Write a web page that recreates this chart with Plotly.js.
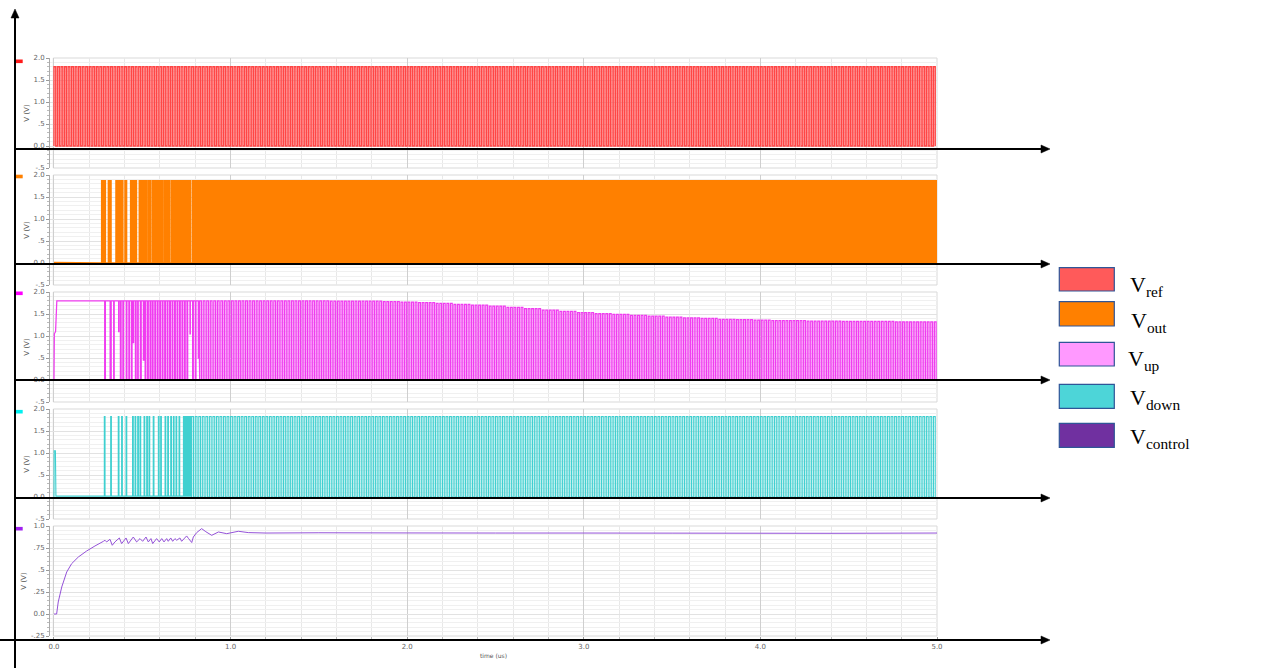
<!DOCTYPE html>
<html><head><meta charset="utf-8">
<script src="https://cdn.plot.ly/plotly-3.0.1.min.js"></script>
<style>html,body{margin:0;padding:0;background:#fff}#chart{width:1262px;height:670px}</style>
</head><body><div id="chart"></div>
<script>
// ---------------- data ----------------
const timeTickVals = [0, 1, 2, 3, 4, 5];
const timeTickText = ['0.0', '1.0', '2.0', '3.0', '4.0', '5.0'];
const voltTickVals = [-0.5, 0, 0.5, 1, 1.5, 2];
const voltTickText = ['-.5', '0.0', '.5', '1.0', '1.5', '2.0'];
const ctrlTickVals = [-0.25, 0, 0.25, 0.5, 0.75, 1];
const ctrlTickText = ['-.25', '0.0', '.25', '.5', '.75', '1.0'];

const legendNames = ['ref', 'out', 'up', 'down', 'control'];

// Vref clock: [start, end, period, duty, high]
const vrefClock = [0.0, 5.0, 0.02, 0.5, 1.80];

// Vout: idle level, burst windows of the VCO output, then continuous
const voutIdle = 0.01;
const voutHigh = 1.87;
const voutPeriod = 0.006;
const voutBursts = [[0.270, 0.294], [0.308, 0.327], [0.351, 0.392], [0.402, 0.417], [0.434, 0.472],
  [0.483, 0.500], [0.504, 0.528], [0.534, 0.553], [0.559, 0.581], [0.585, 0.619], [0.627, 0.657],
  [0.664, 0.698], [0.702, 0.723], [0.729, 0.774], [0.785, 5.0]];

// Vup: start-up points, early dips [time, width, min], clock, envelope of pulse tops
const vupStartT = [0.0, 0.002, 0.009, 0.016];
const vupStartV = [0.0, 1.05, 1.10, 1.80];
const vupHigh = 1.80;
const vupDips = [[0.287, 0.004, 0], [0.318, 0.006, 0], [0.338, 0.003, 0], [0.366, 0.002, 1.1],
  [0.376, 0.004, 0], [0.390, 0.004, 0], [0.409, 0.004, 0], [0.424, 0.003, 0], [0.438, 0.004, 0],
  [0.449, 0.002, 0.85], [0.461, 0.004, 0], [0.474, 0.003, 0], [0.489, 0.005, 0], [0.506, 0.003, 0.45],
  [0.516, 0.004, 0], [0.530, 0.004, 0], [0.544, 0.004, 0], [0.557, 0.004, 0], [0.571, 0.004, 0],
  [0.585, 0.004, 0], [0.599, 0.004, 0], [0.613, 0.004, 0], [0.627, 0.004, 0], [0.641, 0.004, 0],
  [0.655, 0.004, 0], [0.669, 0.004, 0], [0.683, 0.004, 0], [0.697, 0.004, 0], [0.711, 0.004, 0],
  [0.725, 0.004, 0], [0.739, 0.004, 0], [0.753, 0.004, 0], [0.770, 0.002, 1.05], [0.785, 0.004, 0],
  [0.800, 0.004, 0], [0.817, 0.002, 0.5]];
const vupClock = [0.825, 5.0, 0.02, 0.5];
const vupEnvT = [0.8, 0.9, 1.0, 1.1, 1.2, 1.3, 1.4, 1.5, 1.6, 1.7, 1.8, 1.9, 2.0, 2.1, 2.2, 2.3, 2.4,
  2.5, 2.6, 2.7, 2.8, 2.9, 3.0, 3.1, 3.2, 3.3, 3.4, 3.5, 3.6, 3.7, 3.8, 3.9, 4.0, 4.1, 4.2, 4.3, 4.4,
  4.5, 4.6, 4.7, 4.8, 4.9, 5.0];
const vupEnvV = [1.80, 1.80, 1.80, 1.80, 1.80, 1.80, 1.80, 1.80, 1.79, 1.79, 1.79, 1.78, 1.77, 1.76,
  1.74, 1.72, 1.70, 1.68, 1.65, 1.62, 1.59, 1.56, 1.53, 1.51, 1.49, 1.47, 1.45, 1.43, 1.41, 1.40,
  1.38, 1.37, 1.36, 1.35, 1.35, 1.34, 1.34, 1.33, 1.33, 1.33, 1.32, 1.32, 1.32];

// Vdown: start-up points, early narrow pulses, clock
const vdownStartT = [0.0, 0.001, 0.008, 0.011];
const vdownStartV = [0.0, 1.05, 1.05, 0.02];
const vdownIdle = 0.02;
const vdownHigh = 1.83;
const vdownPulseWidth = 0.004;
const vdownPulses = [0.285, 0.321, 0.364, 0.383, 0.408, 0.445, 0.459, 0.474, 0.487, 0.510, 0.525,
  0.538, 0.562, 0.591, 0.604, 0.629, 0.644, 0.661, 0.676, 0.691, 0.708, 0.733, 0.742, 0.750, 0.757,
  0.765, 0.772];
const vdownClock = [0.780, 5.0, 0.02, 0.5];

// Vcontrol
const vcontrolT = [0.0, 0.015, 0.024, 0.044, 0.072, 0.100, 0.138, 0.185, 0.232, 0.280, 0.289, 0.298,
  0.317, 0.330, 0.345, 0.370, 0.383, 0.408, 0.421, 0.449, 0.468, 0.487, 0.502, 0.521, 0.534, 0.549,
  0.559, 0.581, 0.596, 0.610, 0.623, 0.638, 0.647, 0.661, 0.672, 0.685, 0.695, 0.713, 0.723, 0.751,
  0.761, 0.780, 0.789, 0.808, 0.836, 0.860, 0.893, 0.931, 0.978, 1.044, 1.100, 1.200, 1.500, 2.000,
  2.500, 3.000, 3.500, 4.000, 4.400, 4.600, 5.000];
const vcontrolV = [0.0, 0.0, 0.136, 0.307, 0.477, 0.572, 0.648, 0.716, 0.773, 0.826, 0.838, 0.819,
  0.849, 0.781, 0.819, 0.864, 0.800, 0.864, 0.800, 0.875, 0.819, 0.857, 0.826, 0.875, 0.819, 0.857,
  0.800, 0.857, 0.819, 0.857, 0.819, 0.857, 0.826, 0.864, 0.826, 0.857, 0.838, 0.864, 0.826, 0.887,
  0.860, 0.812, 0.875, 0.925, 0.970, 0.935, 0.894, 0.932, 0.913, 0.940, 0.925, 0.920, 0.923, 0.921,
  0.920, 0.920, 0.919, 0.918, 0.917, 0.918, 0.920];

// ---------------- builders ----------------
function pushClock(xs, ys, t0, t1, period, duty, low, highAt) {
  const n = Math.round((t1 - t0) / period);
  for (let k = 0; k < n; k++) {
    const s = t0 + k * period;
    const e = Math.min(s + duty * period, t1);
    const h = highAt(s);
    xs.push(s, s, e, e); ys.push(low, h, h, low);
  }
}
function nearestEnv(t) {
  let best = 0;
  for (let i = 1; i < vupEnvT.length; i++) if (Math.abs(vupEnvT[i] - t) < Math.abs(vupEnvT[best] - t)) best = i;
  return vupEnvV[best];
}

const refX = [], refY = [];
pushClock(refX, refY, vrefClock[0], vrefClock[1], vrefClock[2], vrefClock[3], 0, () => vrefClock[4]);

const outX = [0], outY = [voutIdle];
voutBursts.forEach(b => {
  outX.push(b[0]); outY.push(0);
  pushClock(outX, outY, b[0], b[1], voutPeriod, 0.5, 0, () => voutHigh);
});

const upX = vupStartT.slice(), upY = vupStartV.slice();
vupDips.forEach(d => { upX.push(d[0], d[0], d[0] + d[1], d[0] + d[1]); upY.push(vupHigh, d[2], d[2], vupHigh); });
pushClock(upX, upY, vupClock[0], vupClock[1], vupClock[2], vupClock[3], 0, nearestEnv);

const downX = vdownStartT.slice(), downY = vdownStartV.slice();
vdownPulses.forEach(p => { downX.push(p, p, p + vdownPulseWidth, p + vdownPulseWidth); downY.push(vdownIdle, vdownHigh, vdownHigh, vdownIdle); });
pushClock(downX, downY, vdownClock[0], vdownClock[1], vdownClock[2], vdownClock[3], 0, () => vdownHigh);

// ---------------- layout ----------------
const W = 1262, H = 670;
const L = 50, R = 937, T = 58, B = 636;
const px = p => (p - L) / (R - L);
const py = p => (B - p) / (B - T);
const panelTops = [58, 175, 292, 409, 526];
const panelH = 110;

const colors = ['#ff4545', '#ff8000', '#f03cf0', '#3fd0d0', '#9452d8'];
const widths = [1.4, 1.5, 1.25, 1.1, 1];
const markColors = ['#ff1a1a', '#ff8000', '#ff00ff', '#00f0f0', '#a020f0'];
const legendFill = ['#ff5a5a', '#ff8000', '#ff99ff', '#4dd5d8', '#7030a0'];

const traces = [
  [refX, refY], [outX, outY], [upX, upY], [downX, downY], [vcontrolT, vcontrolV]
].map((d, i) => ({
  x: d[0], y: d[1], type: 'scatter', mode: 'lines',
  xaxis: 'x', yaxis: i === 0 ? 'y' : 'y' + (i + 1),
  line: { color: colors[i], width: widths[i], simplify: false },
  hoverinfo: 'skip', name: 'V' + legendNames[i]
}));

const tickFont = { family: 'DejaVu Sans', size: 7, color: '#666' };
const layout = {
  width: W, height: H,
  margin: { l: L, r: W - R, t: T, b: H - B, pad: 0 },
  paper_bgcolor: '#fff', plot_bgcolor: '#fff',
  showlegend: false, hovermode: false,
  xaxis: {
    range: [-0.0226, 5.0], anchor: 'y5',
    tickmode: 'array', tickvals: timeTickVals, ticktext: timeTickText,
    ticks: 'outside', ticklen: 4, tickcolor: '#999', tickfont: tickFont,
    showgrid: true, gridcolor: '#cfcfcf', gridwidth: 1, zeroline: false, showline: false,
    minor: { dtick: 0.2, tick0: 0, ticks: 'outside', ticklen: 2, tickcolor: '#bbb', showgrid: true, gridcolor: '#e8e8e8' },
    title: { text: 'time (us)', font: { family: 'DejaVu Sans', size: 6, color: '#555' }, standoff: 3 }
  },
  shapes: [], annotations: []
};

for (let i = 0; i < 5; i++) {
  const key = i === 0 ? 'yaxis' : 'yaxis' + (i + 1);
  const top = panelTops[i], bot = top + panelH;
  const isCtrl = i === 4;
  layout[key] = {
    domain: [py(bot), py(top)], anchor: 'x',
    range: isCtrl ? [-0.25, 1.0] : [-0.5, 2.0],
    tickmode: 'array', tickvals: isCtrl ? ctrlTickVals : voltTickVals, ticktext: isCtrl ? ctrlTickText : voltTickText,
    ticks: 'outside', ticklen: 3, tickcolor: '#999', tickfont: tickFont,
    showline: true, linecolor: '#aaa', linewidth: 1,
    showgrid: true, gridcolor: '#e2e2e2', zeroline: false,
    minor: { dtick: isCtrl ? 0.05 : 0.1, tick0: 0, ticks: 'outside', ticklen: 2, tickcolor: '#bbb', showgrid: true, gridcolor: '#f0f0f0' },
    title: { text: 'V (V)', font: { family: 'DejaVu Sans', size: 7, color: '#555' }, standoff: 3 }
  };
  layout.shapes.push({ type: 'rect', xref: 'paper', yref: 'paper',
    x0: px(53.3), x1: px(937), y0: py(bot), y1: py(top), line: { color: '#d9d9d9', width: 1 }, layer: 'below' });
  const mc = top + [3.3, 1.5, 1.3, 2.7, 2.7][i];
  layout.shapes.push({ type: 'rect', xref: 'paper', yref: 'paper', x0: px(16), x1: px(22.7), y0: py(mc + 1.8), y1: py(mc - 1.8),
    fillcolor: markColors[i], line: { width: 0 }, layer: 'above' });
}

// black axis arrows
const arrowYs = [149, 264, 380, 498, 640];
const black = '#000';
arrowYs.forEach((yy, i) => {
  const x0 = i === 4 ? 0 : 14;
  layout.shapes.push({ type: 'line', xref: 'paper', yref: 'paper', x0: px(x0), x1: px(1044), y0: py(yy), y1: py(yy),
    line: { color: black, width: 2 }, layer: 'above' });
  layout.shapes.push({ type: 'path', xref: 'paper', yref: 'paper',
    path: `M ${px(1050)} ${py(yy)} L ${px(1041)} ${py(yy - 4)} L ${px(1041)} ${py(yy + 4)} Z`,
    fillcolor: black, line: { color: black, width: 0.5 }, layer: 'above' });
});
layout.shapes.push({ type: 'line', xref: 'paper', yref: 'paper', x0: px(15), x1: px(15), y0: py(668), y1: py(15),
  line: { color: black, width: 2 }, layer: 'above' });
layout.shapes.push({ type: 'path', xref: 'paper', yref: 'paper',
  path: `M ${px(15)} ${py(9)} L ${px(11)} ${py(18)} L ${px(19)} ${py(18)} Z`,
  fillcolor: black, line: { color: black, width: 0.5 }, layer: 'above' });

// custom legend (boxes + serif labels with subscripts)
const boxTops = [267.7, 301.7, 342.3, 384.3, 423.3];
const boxBottoms = [291, 326, 366, 408.3, 447.3];
const labelBase = [291.7, 327.7, 366, 405, 443.3];
const labelLeft = [1128, 1129, 1125.7, 1127.7, 1127.7];
for (let i = 0; i < 5; i++) {
  layout.shapes.push({ type: 'rect', xref: 'paper', yref: 'paper', x0: px(1059.3), x1: px(1114.3),
    y0: py(boxBottoms[i]), y1: py(boxTops[i]), fillcolor: legendFill[i], line: { color: '#2f5597', width: 1.2 }, layer: 'above' });
  layout.annotations.push({ xref: 'paper', yref: 'paper', x: px(labelLeft[i]), y: py(labelBase[i] - 5.7),
    xanchor: 'left', yanchor: 'middle', showarrow: false,
    text: 'V<sub>' + legendNames[i] + '</sub>',
    font: { family: 'Liberation Serif', size: 22, color: '#000' } });
}

Plotly.newPlot('chart', traces, layout, { staticPlot: true, displayModeBar: false });
</script>
</body></html>
